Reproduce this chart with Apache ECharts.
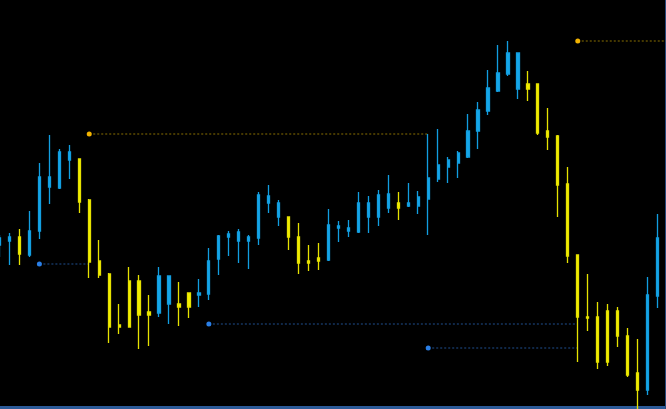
<!DOCTYPE html>
<html>
<head>
<meta charset="utf-8">
<script src="https://cdn.jsdelivr.net/npm/echarts@6/dist/echarts.min.js"></script>
<style>
  html, body { margin: 0; padding: 0; background: #000; }
  #chart { width: 666px; height: 409px; }
</style>
</head>
<body>
<div id="chart"></div>
<script>
// bars in order, x = bar index
const opens = [2255, 2259, 2263, 2245, 2269, 2313, 2312, 2340, 2341, 2300,
  2239, 2226, 2175, 2219, 2219, 2188, 2187, 2196, 2196, 2207,
  2205, 2206, 2241, 2263, 2259, 2259, 2262, 2297, 2283, 2283,
  2263, 2239, 2242, 2240, 2272, 2269, 2268, 2283, 2283, 2292,
  2297, 2294, 2294, 2301, 2321, 2333, 2337, 2343, 2369, 2389,
  2409, 2426, 2411, 2416, 2416, 2369, 2364, 2316, 2245, 2183,
  2183, 2189, 2189, 2164, 2127, 2110, 2204];
const closes = [2262, 2263, 2246, 2269, 2323, 2323, 2348, 2348, 2298, 2238,
  2225, 2173, 2173, 2173, 2185, 2185, 2224, 2224, 2193, 2193,
  2207, 2239, 2264, 2266, 2268, 2263, 2305, 2304, 2297, 2263,
  2237, 2237, 2239, 2275, 2274, 2272, 2297, 2297, 2305, 2306,
  2292, 2297, 2303, 2322, 2335, 2340, 2347, 2369, 2390, 2412,
  2427, 2447, 2447, 2411, 2367, 2363, 2315, 2244, 2183, 2182,
  2138, 2138, 2164, 2125, 2110, 2205, 2262];
const lows = [2243, 2235, 2235, 2243, 2261, 2296, 2311, 2321, 2287, 2222,
  2222, 2157, 2166, 2173, 2151, 2154, 2183, 2176, 2174, 2182,
  2193, 2200, 2225, 2244, 2237, 2231, 2255, 2287, 2274, 2250,
  2226, 2229, 2230, 2239, 2258, 2263, 2267, 2267, 2274, 2287,
  2280, 2293, 2286, 2265, 2318, 2317, 2322, 2342, 2351, 2385,
  2408, 2424, 2401, 2399, 2365, 2350, 2283, 2237, 2138, 2169,
  2131, 2134, 2153, 2123, 2088, 2105, 2192];
const highs = [2265, 2267, 2271, 2289, 2337, 2365, 2351, 2355, 2341, 2301,
  2260, 2227, 2196, 2233, 2225, 2205, 2233, 2224, 2218, 2207,
  2221, 2252, 2265, 2269, 2271, 2265, 2308, 2315, 2300, 2283,
  2277, 2255, 2257, 2291, 2279, 2280, 2308, 2304, 2310, 2325,
  2308, 2317, 2309, 2366, 2371, 2343, 2349, 2386, 2398, 2430,
  2455, 2459, 2447, 2429, 2416, 2392, 2365, 2333, 2245, 2226,
  2198, 2196, 2193, 2172, 2161, 2223, 2286];

// swing levels: start bar, end bar (null = runs to the right edge), price, side
const levelStart = [4, 9, 21, 43, 58];
const levelEnd = [9, 43, 58, 58, null];
const levelPrice = [2236, 2366, 2176, 2152, 2459];
const levelSide = ['low', 'high', 'low', 'low', 'high'];

const xMin = 0.05;
const xMax = 66.85;

let candles = opens.map((o, i) => [i, o, closes[i], lows[i], highs[i]]);

let levelSeries = levelStart.map((s, k) => {
  let isHigh = levelSide[k] === 'high';
  let end = levelEnd[k] == null ? xMax : levelEnd[k];
  return {
    type: 'line',
    silent: true,
    z: 1,
    symbolSize: 5,
    itemStyle: { color: isHigh ? '#f2b300' : '#2a7fe6' },
    lineStyle: {
      color: isHigh ? '#8a7000' : '#1f4f8f',
      width: 1,
      type: [2, 2]
    },
    data: [
      { value: [s, levelPrice[k]], symbol: 'circle' },
      { value: [end, levelPrice[k]], symbol: 'none' }
    ]
  };
});

let myChart = echarts.init(document.getElementById('chart'));
let option = {
  backgroundColor: '#000000',
  animation: false,
  grid: { left: 0, right: 0, top: 0, bottom: 0 },
  xAxis: {
    type: 'value',
    min: xMin,
    max: xMax,
    show: false
  },
  yAxis: {
    type: 'value',
    min: 2091,
    max: 2500,
    show: false
  },
  graphic: [
    { type: 'rect', z: 0, shape: { x: 0, y: 406, width: 666, height: 3 }, style: { fill: '#2c5a98' } },
    { type: 'rect', z: 0, shape: { x: 665, y: 0, width: 1, height: 409 }, style: { fill: '#29497c' } }
  ],
  series: [{
    type: 'candlestick',
    z: 3,
    barWidth: 2.7,
    itemStyle: {
      color: '#17a8ea',
      color0: '#f4f000',
      borderColor: '#129ee0',
      borderColor0: '#e6e200',
      borderWidth: 1.3
    },
    data: candles
  }].concat(levelSeries)
};
myChart.setOption(option);
</script>
</body>
</html>
